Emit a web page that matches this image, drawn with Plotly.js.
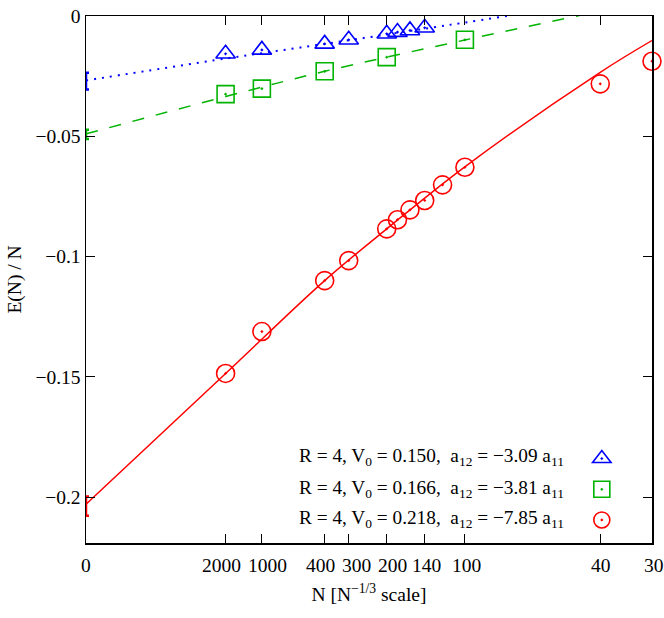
<!DOCTYPE html>
<html>
<head>
<meta charset="utf-8">
<script src="https://cdn.plot.ly/plotly-3.0.1.min.js"></script>
<style>
  html, body { margin: 0; padding: 0; background: #fff; }
  #plot { width: 664px; height: 618px; }
</style>
</head>
<body>
<div id="plot"></div>
<script>
// E(N)/N against N, x axis drawn in N^(-1/3)
var seriesLabels = [
  'R = 4, V<sub>0</sub> = 0.150,\u00a0\u00a0a<sub>12</sub> = \u22123.09 a<sub>11</sub>',
  'R = 4, V<sub>0</sub> = 0.166,\u00a0\u00a0a<sub>12</sub> = \u22123.81 a<sub>11</sub>',
  'R = 4, V<sub>0</sub> = 0.218,\u00a0\u00a0a<sub>12</sub> = \u22127.85 a<sub>11</sub>'
];
var colors = ['#0000ff', '#00b400', '#ff0000'];

var N_tri = [2000, 1000, 400, 300, 200, 180, 160, 140];
var E_tri = [-0.0157, -0.0141, -0.0116, -0.0099, -0.0074, -0.0067, -0.0060, -0.0049];

var N_sq = [2000, 1000, 400, 200, 100];
var E_sq = [-0.0325, -0.0302, -0.0230, -0.0171, -0.0099];

var N_circ = [2000, 1000, 400, 300, 200, 180, 160, 140, 120, 100, 40, 30];
var E_circ = [-0.1486, -0.1312, -0.1100, -0.1017, -0.0885, -0.0847, -0.0806, -0.0767, -0.0702, -0.0629, -0.0282, -0.0188];

// extrapolated N -> infinity values with errors
var E_inf = [-0.0271, -0.0492, -0.2038];
var E_inf_err = [0.0035, 0.0019, 0.0040];

// fit curves (x already in N^-1/3)
var fitU_tri = [0, 0.0794, 0.1357, 0.2058, 0.2500];
var fitE_tri = [-0.0268, -0.0177, -0.0116, -0.0038, 0.0012];
var fitU_sq = [0, 0.0794, 0.1357, 0.2154, 0.2900];
var fitE_sq = [-0.0490, -0.0335, -0.0230, -0.0100, 0.0017];
var fitU_circ = [0, 0.0794, 0.1357, 0.1710, 0.2154, 0.2924, 0.3218];
var fitE_circ = [-0.2030, -0.1486, -0.1100, -0.0885, -0.0627, -0.0234, -0.0102];

var xTickN = [2000, 1000, 400, 300, 200, 140, 100, 40, 30];
// tick labels are nudged sideways (px) so they do not collide
var xTickNudge = [0, -4, 6, -4, 8, 6, 2, 2, 1, 2];
var yTicks = [0, -0.05, -0.1, -0.15, -0.2];
var yTickText = ['0', '\u22120.05', '\u22120.1', '\u22120.15', '\u22120.2'];

function u(N) { return Math.pow(N, -1 / 3); }

var serif = "'Liberation Serif', serif";
var fs = 19.5;

var fits = [
  { x: fitU_tri, y: fitE_tri, dash: '2px,6px', width: 2 },
  { x: fitU_sq, y: fitE_sq, dash: '12px,12px', width: 1.5 },
  { x: fitU_circ, y: fitE_circ, dash: 'solid', width: 1.5 }
];
var pts = [
  { N: N_tri, E: E_tri, symbol: 'triangle-up-open-dot', size: 17 },
  { N: N_sq, E: E_sq, symbol: 'square-open-dot', size: 17 },
  { N: N_circ, E: E_circ, symbol: 'circle-open-dot', size: 18 }
];

var traces = [];
fits.forEach(function(f, i) {
  traces.push({
    x: f.x, y: f.y, mode: 'lines', line: { color: colors[i], dash: f.dash, width: f.width, shape: 'spline' },
    showlegend: false, hoverinfo: 'skip'
  });
});
E_inf.forEach(function(e, i) {
  traces.push({
    x: [0], y: [e], mode: 'markers', marker: { size: 1, color: colors[i] },
    error_y: { type: 'data', array: [E_inf_err[i]], color: colors[i], thickness: 2.5, width: 3 },
    showlegend: false
  });
});
pts.forEach(function(p, i) {
  traces.push({
    x: p.N.map(u), y: p.E, mode: 'markers', name: ' ',
    legendgroup: 'g' + i, cliponaxis: false,
    marker: { symbol: p.symbol, size: p.size, color: colors[i], line: { width: 1.6, color: colors[i] } },
    text: p.N.map(String), hovertemplate: 'N = %{text}<br>E/N = %{y:.4f}<extra></extra>'
  });
});

var annotations = seriesLabels.map(function(t, i) {
  return {
    xref: 'paper', yref: 'paper', x: 0.848, y: [0.163, 0.103, 0.045][i],
    xanchor: 'right', yanchor: 'middle', showarrow: false, text: t,
    font: { family: serif, size: 19.3, color: '#000' }
  };
});

// x tick labels as annotations so they can be nudged
var xLabelVals = [0].concat(xTickN.map(u));
var xLabelText = ['0'].concat(xTickN.map(String));
xLabelVals.forEach(function(v, i) {
  annotations.push({
    xref: 'x', yref: 'paper', x: v, y: 0, xanchor: 'center', yanchor: 'middle',
    xshift: xTickNudge[i], yshift: -22, showarrow: false, text: xLabelText[i],
    font: { family: serif, size: fs, color: '#000' }
  });
});

var layout = {
  width: 664, height: 618,
  margin: { l: 86, r: 12, t: 16, b: 75 },
  paper_bgcolor: '#fff', plot_bgcolor: '#fff',
  font: { family: serif, size: fs, color: '#000' },
  xaxis: {
    range: [0, u(30)],
    tickvals: xLabelVals,
    showticklabels: false,
    ticks: 'inside', ticklen: 9, tickcolor: '#000', tickwidth: 1,
    showline: true, linecolor: '#000', linewidth: 1.5, mirror: 'ticks',
    showgrid: false, zeroline: false,
    title: { text: 'N [N<sup>\u22121/3</sup> scale]', font: { family: serif, size: fs }, standoff: 44 }
  },
  yaxis: {
    range: [-0.2191, 0],
    tickvals: yTicks, ticktext: yTickText,
    tickfont: { family: serif, size: fs },
    ticks: 'inside', ticklen: 9, tickcolor: '#000', tickwidth: 1,
    showline: true, linecolor: '#000', linewidth: 1.5, mirror: 'ticks',
    showgrid: false, zeroline: false,
    title: { text: 'E(N) / N', font: { family: serif, size: fs }, standoff: 8 }
  },
  showlegend: true,
  legend: {
    x: 0.876, y: 0.196, xanchor: 'left', yanchor: 'top',
    bgcolor: 'rgba(0,0,0,0)', tracegroupgap: 3,
    font: { family: serif, size: 19 }
  },
  annotations: annotations
};

Plotly.newPlot('plot', traces, layout, { displayModeBar: false, staticPlot: true });
</script>
</body>
</html>
